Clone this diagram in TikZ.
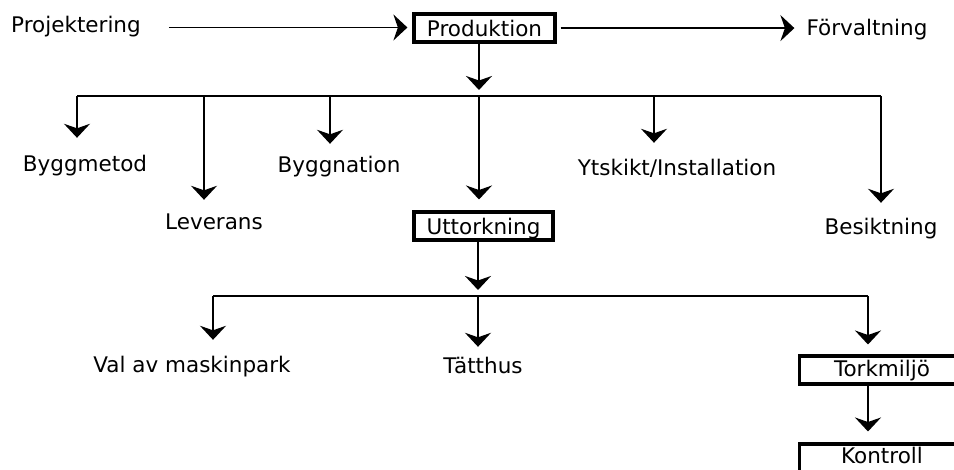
\documentclass[tikz,border=0pt]{standalone}
\usepackage{fontspec}
\setmainfont{DejaVu Sans}
\usetikzlibrary{arrows.meta}
\begin{document}
\begin{tikzpicture}[x=1pt,y=-1pt,
  lbl/.style={font=\fontsize{21.5}{24}\selectfont, inner sep=0pt, text height=16pt, text depth=5pt, anchor=base},
  boxnode/.style={draw, line width=3.2pt, font=\fontsize{21.5}{24}\selectfont, inner xsep=0pt, inner ysep=3.5pt, text height=19pt, text depth=2pt, anchor=north},
  arr/.style={line width=1.7pt, -{Stealth[length=14pt,width=26pt,inset=4.5pt]}},
  ln/.style={line width=1.7pt}]
\useasboundingbox (0,0) rectangle (954,470);
\clip (0,0) rectangle (954,470);
\fill[white] (0,0) rectangle (954,470);

% top row
\node[lbl] (proj) at (76,33) {Projektering};
\node[boxnode, minimum width=141pt] (prod) at (484.5,12.5) {Produktion\hspace{13pt}};
\node[lbl] (forv) at (867,36) {Förvaltning};
\draw[arr, shorten <=28pt, shorten >=5pt] (proj.east) -- (proj.east -| prod.west);
\draw[arr, shorten <=4pt, shorten >=12pt] (prod.east) -- (prod.east -| forv.west);

% first level
\coordinate (j0) at (479,96);
\coordinate (jl) at (77,96);
\coordinate (jr) at (881,96);
\node[lbl] (bm) at (85,172) {Byggmetod};
\node[lbl] (lev) at (214,230) {Leverans};
\node[lbl] (byg) at (339,173) {Byggnation};
\node[boxnode, minimum width=139pt] (utt) at (483.5,210.5) {Uttorkning};
\node[lbl] (yts) at (677,176) {Ytskikt/Installation};
\node[lbl] (bes) at (881,235) {Besiktning};

\draw[arr, shorten >=6pt] (prod.south -| j0) -- (j0);
\draw[ln] (jl) -- (jr);
\coordinate (d1) at (77,96);
\coordinate (d2) at (204,96);
\coordinate (d3) at (330,96);
\coordinate (d5) at (654,96);
\draw[arr, shorten >=18pt] (d1) -- (d1 |- bm.north);
\draw[arr, shorten >=14pt] (d2) -- (d2 |- lev.north);
\draw[arr, shorten >=13pt] (d3) -- (d3 |- byg.north);
\draw[arr, shorten >=11pt] (j0) -- (j0 |- utt.north);
\draw[arr, shorten >=17pt] (d5) -- (d5 |- yts.north);
\draw[arr, shorten >=16pt] (jr) -- (jr |- bes.north);

% second level
\coordinate (k0) at (478,296);
\coordinate (kl) at (213,296);
\coordinate (kr) at (868,296);
\node[lbl] (val) at (192,373) {Val av maskinpark};
\node[lbl] (tat) at (483,374) {Tätthus};
\node[boxnode, minimum width=165pt, text height=17pt, text depth=4pt] (tork) at (882,354.5) {Torkmiljö};
\node[boxnode, minimum width=165pt, text height=16pt, text depth=12pt] (kont) at (882,442.5) {Kontroll};

\draw[arr, shorten >=6pt] (utt.south -| k0) -- (k0);
\draw[ln] (kl) -- (kr);
\draw[arr, shorten >=17pt] (kl) -- (kl |- val.north);
\draw[arr, shorten >=11pt] (k0) -- (k0 |- tat.north);
\draw[arr, shorten >=10pt] (kr) -- (kr |- tork.north);
\draw[arr, shorten >=11pt] (tork.south -| kr) -- (kr |- kont.north);
\end{tikzpicture}
\end{document}
